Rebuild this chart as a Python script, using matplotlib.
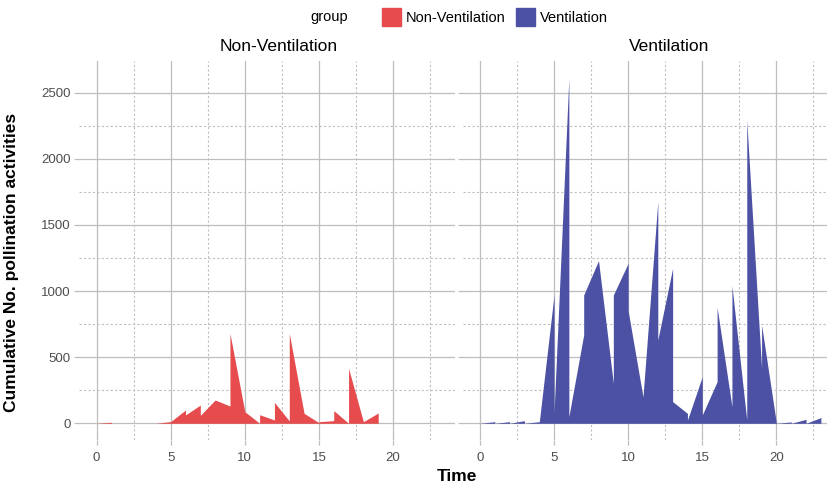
import matplotlib
matplotlib.use('Agg')
import matplotlib.pyplot as plt
from matplotlib.patches import Patch
from matplotlib.ticker import MultipleLocator

plt.rcParams['font.family'] = ['Liberation Sans', 'DejaVu Sans']

# hourly data with repeated times (several days overlap at same hour)
non_vent_time = [0, 1, 1, 4, 5, 6, 6, 7, 7, 8, 9, 9, 10, 11, 11, 12, 12,
                 13, 13, 14, 15, 15, 16, 16, 17, 17, 18, 19]
non_vent_count = [0, 8, 0, 0, 13, 100, 63, 138, 60, 176, 131, 680, 88, 0, 65,
                  25, 158, 18, 680, 75, 5, 12, 20, 96, 0, 415, 12, 78]

vent_time = [0, 1, 1, 2, 2, 3, 3, 4, 4, 5, 5, 6, 6, 7, 7, 8, 9, 9, 10, 10,
             11, 12, 12, 13, 13, 14, 14, 15, 15, 16, 16, 17, 17, 18, 18,
             19, 19, 20, 21, 21, 22, 22, 23]
vent_count = [0, 12, 0, 12, 0, 20, 0, 12, 5, 970, 75, 2608, 50, 668, 970,
              1230, 302, 970, 1210, 850, 200, 1676, 630, 1172, 164, 75, 25,
              353, 63, 315, 877, 126, 1040, 25, 2293, 415, 743, 0, 10, 0,
              30, 0, 43]

panels = ['Non-Ventilation', 'Ventilation']
colors = ['#E64B4E', '#4C51A4']

fig = plt.figure(figsize=(8.28, 4.87), dpi=100)
ax1 = fig.add_axes([0.096, 0.0955, 0.453, 0.779])
ax2 = fig.add_axes([0.559, 0.0955, 0.453, 0.779])

data = [(non_vent_time, non_vent_count), (vent_time, vent_count)]
title_x = [0.53, 0.55]
for ax, (t, c), name, col, tx in zip([ax1, ax2], data, panels, colors, title_x):
    ax.fill_between(t, c, 0, color=col, lw=0, zorder=3)
    ax.set_xlim(-1.15, 24.15)
    ax.set_ylim(-130, 2738)
    ax.xaxis.set_major_locator(MultipleLocator(5))
    ax.xaxis.set_minor_locator(MultipleLocator(2.5))
    ax.yaxis.set_major_locator(MultipleLocator(500))
    ax.yaxis.set_minor_locator(MultipleLocator(250))
    ax.grid(which='major', color='#BEBEBE', lw=0.9, ls='-')
    ax.grid(which='minor', color='#BEBEBE', lw=0.8, ls=(0, (2, 2)))
    ax.set_axisbelow(True)
    for s in ax.spines.values():
        s.set_visible(False)
    ax.tick_params(which='major', length=3.5, width=0.9, color='#BEBEBE',
                   labelsize=9.5, labelcolor='#4D4D4D', pad=3)
    ax.tick_params(axis='x', which='major', pad=5)
    ax.tick_params(which='minor', length=0)
    ax.set_title(name, fontsize=12.5, pad=7, x=tx)

ax2.tick_params(labelleft=False)
ax1.set_ylabel('Cumulative No. pollination activities', fontsize=12.5, fontweight='bold')
ax1.yaxis.set_label_coords(-0.161, 0.47)
fig.text(0.552, 0.022, 'Time', ha='center', va='center', fontsize=12.5, fontweight='bold')

handles = [Patch(color=c, label=n) for c, n in zip(colors, panels)]
fig.text(0.398, 0.965, 'group', ha='center', va='center', fontsize=10.5)
fig.legend(handles=handles, loc='center left', bbox_to_anchor=(0.452, 0.965), ncol=2,
           frameon=False, fontsize=10.5, handlelength=1.3, handleheight=1.5,
           handletextpad=0.35, columnspacing=0.7, borderpad=0)

fig.savefig('out.png', dpi=100)
